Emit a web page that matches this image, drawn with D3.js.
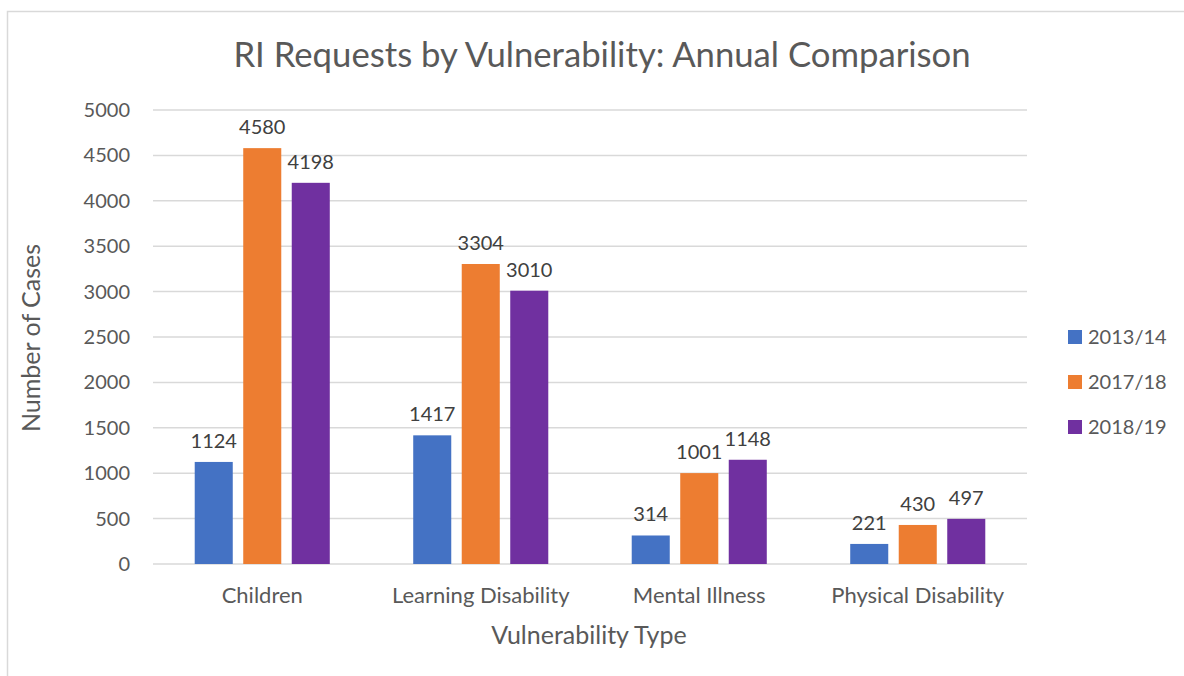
<!DOCTYPE html>
<html>
<head>
<meta charset="utf-8">
<script src="https://cdn.jsdelivr.net/npm/d3@7"></script>
<style>
  body { margin: 0; background: #fff; }
  svg { display: block; font-family: Lato, "Open Sans", sans-serif; }
</style>
</head>
<body>
<script>
const categories = ["Children", "Learning Disability", "Mental Illness", "Physical Disability"];
const seriesNames = ["2013/14", "2017/18", "2018/19"];
const values2013 = [1124, 1417, 314, 221];
const values2017 = [4580, 3304, 1001, 430];
const values2018 = [4198, 3010, 1148, 497];
const yTicks = [0, 500, 1000, 1500, 2000, 2500, 3000, 3500, 4000, 4500, 5000];
const colors = ["#4472C4", "#ED7D31", "#7030A0"];

const seriesValues = [values2013, values2017, values2018];
const w = 1184, h = 676;
const textColor = "#595959";

const svg = d3.select("body").append("svg")
  .attr("width", w)
  .attr("height", h);

// chart border
svg.append("rect")
  .attr("x", 7.5).attr("y", 11.5)
  .attr("width", 1220).attr("height", 700)
  .attr("fill", "none")
  .attr("stroke", "#D9D9D9")
  .attr("stroke-width", 1.5);

const plot = { left: 153, right: 1027, top: 110, bottom: 564 };

const x0 = d3.scaleBand()
  .domain(categories)
  .range([plot.left, plot.right]);

const x1 = d3.scaleBand()
  .domain(seriesNames)
  .range([0, x0.bandwidth()])
  .paddingInner(0.216)
  .paddingOuter(0.86);

const y = d3.scaleLinear()
  .domain([0, 5000])
  .range([plot.bottom, plot.top]);

// gridlines
svg.append("g")
  .selectAll("line")
  .data(yTicks)
  .enter()
  .append("line")
  .attr("x1", plot.left)
  .attr("x2", plot.right)
  .attr("y1", d => y(d))
  .attr("y2", d => y(d))
  .attr("stroke", "#D9D9D9")
  .attr("stroke-width", 1.5);

// y axis labels
const yAxis = d3.axisLeft(y).tickValues(yTicks).tickFormat(d3.format("d")).tickSize(0).tickPadding(0);
const yAxisG = svg.append("g")
  .attr("transform", `translate(130, 0)`)
  .call(yAxis);
yAxisG.select(".domain").remove();
yAxisG.selectAll("text")
  .attr("fill", textColor)
  .style("font-size", "20px")
  .style("font-family", "Lato, sans-serif");

// bars
const rows = categories.map((c, i) => ({
  category: c,
  values: seriesNames.map((s, j) => ({ series: s, value: seriesValues[j][i], idx: j }))
}));

const groups = svg.append("g")
  .selectAll("g")
  .data(rows)
  .enter()
  .append("g")
  .attr("transform", d => `translate(${x0(d.category)}, 0)`);

groups.selectAll("rect")
  .data(d => d.values)
  .enter()
  .append("rect")
  .attr("x", d => x1(d.series))
  .attr("y", d => y(d.value))
  .attr("width", x1.bandwidth())
  .attr("height", d => y(0) - y(d.value))
  .attr("fill", d => colors[d.idx]);

groups.selectAll("text")
  .data(d => d.values)
  .enter()
  .append("text")
  .attr("x", d => x1(d.series) + x1.bandwidth() / 2)
  .attr("y", d => y(d.value) - 14)
  .attr("text-anchor", "middle")
  .attr("fill", "#404040")
  .style("font-size", "20px")
  .text(d => d.value);

// x axis labels
const xAxis = d3.axisBottom(x0).tickSize(0).tickPadding(0);
const xAxisG = svg.append("g")
  .attr("transform", `translate(0, ${plot.bottom})`)
  .call(xAxis);
xAxisG.select(".domain").remove();
xAxisG.selectAll("text")
  .attr("dy", null)
  .attr("y", 39)
  .attr("fill", textColor)
  .style("font-size", "22px")
  .style("font-family", "Lato, sans-serif");

// title
svg.append("text")
  .attr("x", 602)
  .attr("y", 67)
  .attr("text-anchor", "middle")
  .attr("fill", textColor)
  .style("font-size", "34.7px")
  .text("RI Requests by Vulnerability: Annual Comparison");

// axis titles
svg.append("text")
  .attr("x", 589)
  .attr("y", 644)
  .attr("text-anchor", "middle")
  .attr("fill", textColor)
  .style("font-size", "25px")
  .text("Vulnerability Type");

svg.append("text")
  .attr("transform", "rotate(-90)")
  .attr("x", -338)
  .attr("y", 40)
  .attr("text-anchor", "middle")
  .attr("fill", textColor)
  .style("font-size", "25px")
  .text("Number of Cases");

// legend
const legend = svg.append("g")
  .attr("transform", "translate(1068, 337)");

seriesNames.forEach((s, i) => {
  legend.append("rect")
    .attr("x", 0)
    .attr("y", i * 45 - 7)
    .attr("width", 14)
    .attr("height", 14)
    .attr("fill", colors[i]);
  legend.append("text")
    .attr("x", 20)
    .attr("y", i * 45 + 7)
    .attr("fill", textColor)
    .style("font-size", "20px")
    .text(s);
});
</script>
</body>
</html>
